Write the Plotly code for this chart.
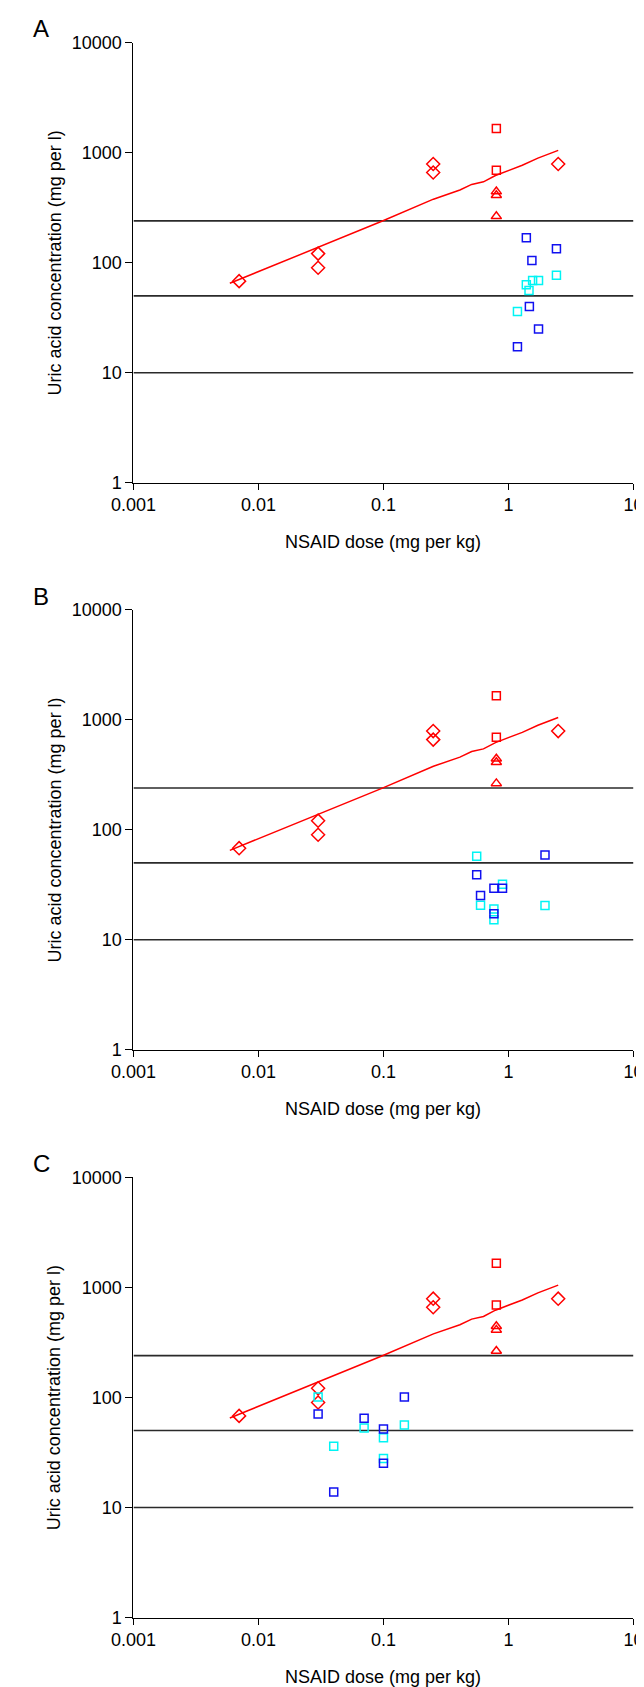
import plotly.graph_objects as go

# ---------------- data ----------------
x_ticks = [0.001, 0.01, 0.1, 1, 10]
x_tick_labels = ["0.001", "0.01", "0.1", "1", "10"]
y_ticks = [1, 10, 100, 1000, 10000]
y_tick_labels = ["1", "10", "100", "1000", "10000"]

ref_levels = [240, 50, 10]

red_diamond_x = [0.007, 0.03, 0.03, 0.25, 0.25, 2.5]
red_diamond_y = [68, 121, 90, 790, 661, 790]
red_square_x = [0.8, 0.8]
red_square_y = [1660, 693]
red_triangle_x = [0.8, 0.8, 0.8]
red_triangle_y = [443, 411, 264]

trend_x = [0.0059, 0.097, 0.251, 0.409, 0.508, 0.631, 0.787, 1.12, 1.29, 1.72, 2.5]
trend_y = [65, 238, 378, 458, 515, 544, 621, 728, 769, 893, 1050]

a_blue_x = [1.39, 2.42, 1.54, 1.47, 1.74, 1.18]
a_blue_y = [169, 134, 105, 40, 25, 17.2]
a_cyan_x = [2.42, 1.56, 1.74, 1.39, 1.46, 1.18]
a_cyan_y = [77, 69, 69, 63, 56, 36]

b_blue_x = [1.96, 0.557, 0.598, 0.765, 0.896, 0.765]
b_blue_y = [59, 39, 25.3, 29.3, 29.3, 17.2]
b_cyan_x = [0.557, 0.896, 0.598, 1.96, 0.765, 0.765]
b_cyan_y = [57.5, 32, 20.6, 20.5, 19, 15.2]

c_blue_x = [0.03, 0.07, 0.1, 0.147, 0.1, 0.04]
c_blue_y = [70.8, 64.7, 51.6, 100.7, 25.2, 13.8]
c_cyan_x = [0.03, 0.07, 0.147, 0.1, 0.04, 0.1]
c_cyan_y = [100.7, 52.7, 56.1, 43, 36, 27.9]

panel_labels = ["A", "B", "C"]
x_title = "NSAID dose (mg per kg)"
y_title = "Uric acid concentration (mg per l)"

# ---------------- layout geometry ----------------
W, H = 644, 1687
FONT = "Liberation Sans, Arial, sans-serif"
RED = "#FF0000"
BLUE = "#1010F0"
CYAN = "#00F4F4"

x_left_px, x_right_px = 108, 635
panels_px = [(25, 470.3), (599, 1044), (1173.3, 1618.7)]  # (top, bottom) of y-axis

fig = go.Figure()

panel_sets = [
    (a_blue_x, a_blue_y, a_cyan_x, a_cyan_y),
    (b_blue_x, b_blue_y, b_cyan_x, b_cyan_y),
    (c_blue_x, c_blue_y, c_cyan_x, c_cyan_y),
]

annotations = []
for i, ((top, bot), (bx, by, cx, cy)) in enumerate(zip(panels_px, panel_sets)):
    n = "" if i == 0 else str(i + 1)
    xa, ya = "x" + n, "y" + n
    for lvl in ref_levels:
        fig.add_trace(go.Scatter(x=[x_ticks[0], x_ticks[-1]], y=[lvl, lvl], mode="lines",
                                 line=dict(color="#2a2a2a", width=1.6),
                                 xaxis=xa, yaxis=ya, showlegend=False, hoverinfo="skip",
                                 cliponaxis=False))
    fig.add_trace(go.Scatter(x=trend_x, y=trend_y, mode="lines",
                             line=dict(color=RED, width=1.5),
                             xaxis=xa, yaxis=ya, showlegend=False))
    fig.add_trace(go.Scatter(x=red_diamond_x, y=red_diamond_y, mode="markers",
                             marker=dict(symbol="diamond-open", size=10, color=RED,
                                         line=dict(width=1.5, color=RED)),
                             xaxis=xa, yaxis=ya, showlegend=False))
    fig.add_trace(go.Scatter(x=red_square_x, y=red_square_y, mode="markers",
                             marker=dict(symbol="square-open", size=8, color=RED,
                                         line=dict(width=1.5, color=RED)),
                             xaxis=xa, yaxis=ya, showlegend=False))
    fig.add_trace(go.Scatter(x=red_triangle_x, y=red_triangle_y, mode="markers",
                             marker=dict(symbol="triangle-up-open", size=9, color=RED,
                                         line=dict(width=1.5, color=RED)),
                             xaxis=xa, yaxis=ya, showlegend=False))
    fig.add_trace(go.Scatter(x=cx, y=cy, mode="markers",
                             marker=dict(symbol="square-open", size=8, color=CYAN,
                                         line=dict(width=1.5, color=CYAN)),
                             xaxis=xa, yaxis=ya, showlegend=False))
    fig.add_trace(go.Scatter(x=bx, y=by, mode="markers",
                             marker=dict(symbol="square-open", size=8, color=BLUE,
                                         line=dict(width=1.5, color=BLUE)),
                             xaxis=xa, yaxis=ya, showlegend=False))

    ydom = [1 - bot / H, 1 - top / H]
    xdom = [x_left_px / W, x_right_px / W]
    fig.layout["xaxis" + n] = dict(
        type="log", range=[-3, 1], domain=xdom, anchor=ya,
        tickvals=x_ticks, ticktext=x_tick_labels, ticks="outside", ticklen=6,
        tickcolor="black", tickwidth=1, showline=True, linecolor="black", linewidth=1,
        showgrid=False, zeroline=False, ticklabeloverflow="allow",
        tickfont=dict(family=FONT, size=18, color="black"),
    )
    fig.layout["yaxis" + n] = dict(
        type="log", range=[0, 4], domain=ydom, anchor=xa,
        tickvals=y_ticks, ticktext=y_tick_labels, ticks="outside", ticklen=7,
        tickcolor="black", tickwidth=1, showline=True, linecolor="black", linewidth=1,
        showgrid=False, zeroline=False, ticklabeloverflow="allow",
        tickfont=dict(family=FONT, size=18, color="black"),
    )
    annotations.append(dict(text=panel_labels[i], xref="paper", yref="paper",
                            x=0.5 / W, y=1 - (top - 14) / H, xanchor="left", yanchor="middle",
                            showarrow=False, font=dict(family=FONT, size=24, color="black")))
    annotations.append(dict(text=x_title, xref="paper", yref="paper",
                            x=(x_left_px + x_right_px) / 2 / W, y=1 - (bot + 60) / H,
                            xanchor="center", yanchor="middle", showarrow=False,
                            font=dict(family=FONT, size=18, color="black")))
    annotations.append(dict(text=y_title, xref="paper", yref="paper",
                            x=25 / W, y=1 - (top + bot) / 2 / H, textangle=-90,
                            xanchor="center", yanchor="middle", showarrow=False,
                            font=dict(family=FONT, size=18, color="black")))

fig.update_layout(width=W, height=H, margin=dict(l=0, r=0, t=0, b=0),
                  paper_bgcolor="white", plot_bgcolor="white",
                  annotations=annotations, showlegend=False)

fig.write_html("out.html")
